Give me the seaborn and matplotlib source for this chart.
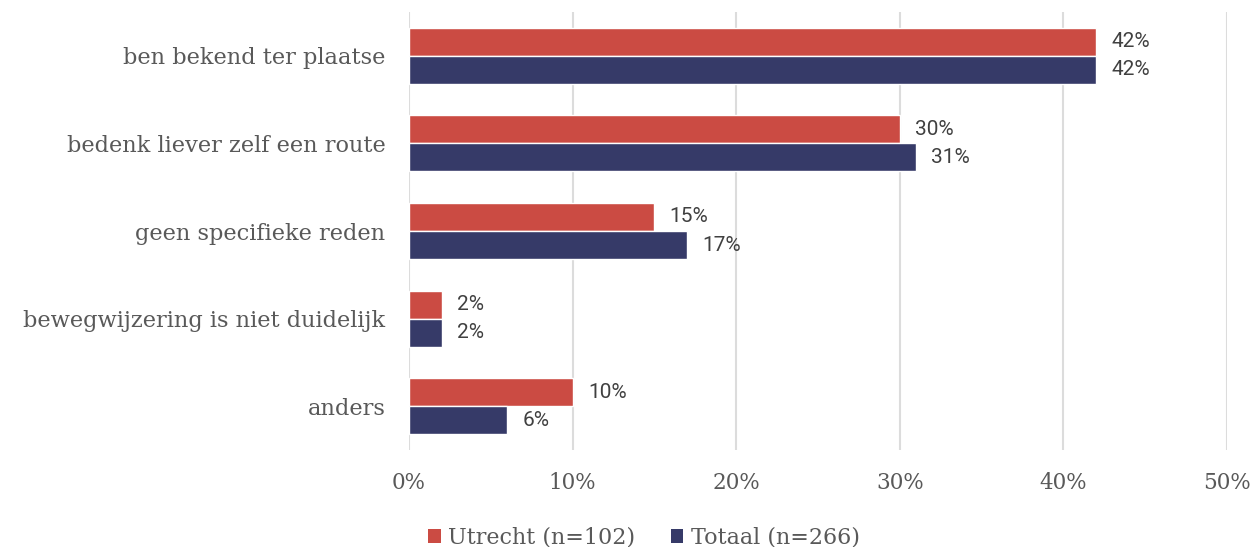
import matplotlib
matplotlib.use("Agg")
import matplotlib.pyplot as plt
import seaborn as sns
import pandas as pd
from matplotlib.ticker import FuncFormatter
from matplotlib.patches import Patch

categories = ["ben bekend ter plaatse", "bedenk liever zelf een route",
              "geen specifieke reden", "bewegwijzering is niet duidelijk", "anders"]
utrecht = [42, 30, 15, 2, 10]
totaal = [42, 31, 17, 2, 6]
series = ["Utrecht (n=102)", "Totaal (n=266)"]
colors = ["#CB4B43", "#363A68"]
xticks = [0, 10, 20, 30, 40, 50]

df = pd.DataFrame({
    "cat": categories * 2,
    "val": utrecht + totaal,
    "series": [series[0]] * 5 + [series[1]] * 5,
})

sns.set_style("white")
plt.rcParams["font.family"] = ["DejaVu Serif"]

fig = plt.figure(figsize=(12.56, 5.47), dpi=100)
ax = fig.add_axes([409/1256, 1-450/547, (1227-409)/1256, (450-12)/547])
sns.barplot(data=df, y="cat", x="val", hue="series", palette=colors, orient="h",
            width=0.64, ax=ax, legend=False, edgecolor="white", linewidth=1,
            saturation=1)

ax.set_xlim(0, 50)
ax.set_xticks(xticks)
ax.xaxis.set_major_formatter(FuncFormatter(lambda v, p: f"{v:.0f}%"))
ax.grid(axis="x", color="#dcdcdc", linewidth=1.5)
ax.set_axisbelow(True)
for s in ax.spines.values():
    s.set_visible(False)
ax.set_xlabel("")
ax.set_ylabel("")
ax.tick_params(axis="x", length=0, pad=16, labelsize=15.5, colors="#595959")
ax.tick_params(axis="y", length=0, pad=17, labelsize=16.2, colors="#595959")

for cont in ax.containers:
    ax.bar_label(cont, labels=[f"{v:.0f}%" for v in cont.datavalues], padding=11,
                 fontsize=15, color="#404040", family="Roboto")

handles = [Patch(facecolor=c, edgecolor="none") for c in colors]
fig.legend(handles, series, loc="lower center", bbox_to_anchor=(0.513, -0.04), ncol=2,
           frameon=False, fontsize=16, handlelength=0.55, handleheight=0.55,
           handletextpad=0.35, columnspacing=1.6, labelcolor="#595959")

fig.savefig("out.png", dpi=100)
